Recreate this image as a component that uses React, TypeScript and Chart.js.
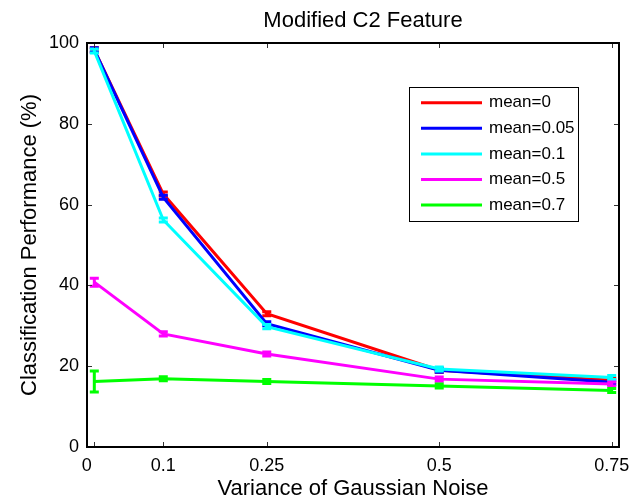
import React, { useEffect, useRef } from "react";
import { Chart, registerables } from "chart.js";

Chart.register(...registerables);

const FONT = "'Liberation Sans', Arial, Helvetica, sans-serif";

const xValues = [0, 0.1, 0.25, 0.5, 0.75];
const xTickValues = [0, 0.1, 0.25, 0.5, 0.75];
const xTickLabels = ["0", "0.1", "0.25", "0.5", "0.75"];
const yTickValues = [0, 20, 40, 60, 80, 100];

const seriesNames = ["mean=0", "mean=0.05", "mean=0.1", "mean=0.5", "mean=0.7"];
const seriesColors = ["#ff0000", "#0000ff", "#00ffff", "#ff00ff", "#00ff00"];

const mean0 = [98.3, 62.6, 33.0, 19.0, 16.5];
const mean005 = [98.3, 61.8, 30.5, 19.0, 16.0];
const mean01 = [98.0, 56.2, 29.8, 19.3, 17.2];
const mean05 = [40.8, 28.0, 23.0, 16.8, 15.6];
const mean07 = [16.2, 16.9, 16.2, 15.1, 14.0];

const err0 = [0.5, 0.5, 0.5, 0.5, 0.5];
const err005 = [0.5, 0.5, 0.5, 0.5, 0.5];
const err01 = [0.5, 0.5, 0.5, 0.5, 0.5];
const err05 = [1.0, 0.5, 0.5, 0.5, 0.5];
const err07 = [2.6, 0.5, 0.5, 0.5, 0.5];

const seriesValues = [mean0, mean005, mean01, mean05, mean07];
const seriesErrors = [err0, err005, err01, err05, err07];

const titleText = "Modified C2 Feature";
const xTitle = "Variance of Gaussian Noise";
const yTitle = "Classification Performance (%)";

const decorPlugin = {
  id: "decor",
  afterDatasetDraw(chart: any, args: any) {
    const ctx = chart.ctx;
    const meta = args.meta;
    const idx = args.index;
    const ys = chart.scales.y;
    const vals = seriesValues[idx];
    const errs = seriesErrors[idx];
    ctx.save();
    ctx.strokeStyle = seriesColors[idx];
    ctx.lineWidth = 3;
    ctx.lineCap = "butt";
    meta.data.forEach((pt: any, i: number) => {
      const x = pt.x;
      const yT = ys.getPixelForValue(vals[i] + errs[i]);
      const yB = ys.getPixelForValue(vals[i] - errs[i]);
      ctx.beginPath();
      ctx.moveTo(x, yT - 1.5);
      ctx.lineTo(x, yB + 1.5);
      ctx.moveTo(x - 4.5, yT);
      ctx.lineTo(x + 4.5, yT);
      ctx.moveTo(x - 4.5, yB);
      ctx.lineTo(x + 4.5, yB);
      ctx.stroke();
    });
    ctx.restore();
  },
  afterDraw(chart: any) {
    const ctx = chart.ctx;
    const { left, right, top, bottom } = chart.chartArea;
    const xs = chart.scales.x;
    const ys = chart.scales.y;
    ctx.save();
    // ticks (inward, all four sides)
    ctx.strokeStyle = "#333";
    ctx.lineWidth = 1;
    ctx.beginPath();
    xTickValues.forEach((v) => {
      const x = Math.round(xs.getPixelForValue(v)) + 0.5;
      ctx.moveTo(x, bottom);
      ctx.lineTo(x, bottom - 5);
      ctx.moveTo(x, top);
      ctx.lineTo(x, top + 5);
    });
    yTickValues.forEach((v) => {
      const y = Math.round(ys.getPixelForValue(v)) + 0.5;
      ctx.moveTo(left, y);
      ctx.lineTo(left + 5, y);
      ctx.moveTo(right, y);
      ctx.lineTo(right - 5, y);
    });
    ctx.stroke();
    // axes box
    ctx.strokeStyle = "#000";
    ctx.lineWidth = 2;
    ctx.strokeRect(left, top, right - left, bottom - top);
    // title
    ctx.fillStyle = "#000";
    ctx.font = `22px ${FONT}`;
    ctx.textAlign = "center";
    ctx.textBaseline = "middle";
    ctx.fillText(titleText, 363, 21);
    // legend
    const lx = 409.5, ly = 87.5, lw = 169, lh = 134;
    ctx.fillStyle = "#fff";
    ctx.fillRect(lx, ly, lw, lh);
    ctx.strokeStyle = "#000";
    ctx.lineWidth = 1;
    ctx.strokeRect(lx, ly, lw, lh);
    ctx.font = `17px ${FONT}`;
    ctx.textAlign = "left";
    seriesNames.forEach((name, i) => {
      const y = 102.7 + i * 25.6;
      ctx.strokeStyle = seriesColors[i];
      ctx.lineWidth = 3;
      ctx.beginPath();
      ctx.moveTo(421, y);
      ctx.lineTo(482, y);
      ctx.stroke();
      ctx.fillStyle = "#000";
      ctx.fillText(name, 489, y);
    });
    ctx.restore();
  },
};

export default function App() {
  const ref = useRef<HTMLCanvasElement>(null);
  useEffect(() => {
    Chart.defaults.font.family = FONT;
    const chart = new Chart(ref.current as HTMLCanvasElement, {
      type: "line",
      data: {
        datasets: seriesNames.map((name, i) => ({
          label: name,
          data: xValues.map((x, j) => ({ x, y: seriesValues[i][j] })),
          borderColor: seriesColors[i],
          backgroundColor: seriesColors[i],
          borderWidth: 3,
          pointRadius: 0,
          tension: 0,
          fill: false,
          order: seriesNames.length - 1 - i,
        })),
      },
      options: {
        responsive: false,
        animation: false,
        events: [],
        layout: { padding: { top: 43, right: 25, left: 0, bottom: 0 } },
        plugins: {
          legend: { display: false },
          title: { display: false },
          tooltip: { enabled: false },
        },
        scales: {
          x: {
            type: "linear",
            min: -0.0106,
            max: 0.7606,
            afterBuildTicks: (s: any) => {
              s.ticks = xTickValues.map((v) => ({ value: v }));
            },
            afterFit: (s: any) => {
              s.height = 56;
            },
            ticks: {
              autoSkip: false,
              maxRotation: 0,
              padding: 8,
              color: "#000",
              font: { size: 18, family: FONT },
              callback: (v: any) => {
                const i = xTickValues.indexOf(Number(v));
                if (i < 0) return "";
                // the first label sits slightly left of its tick, as in the reference
                return i === 0 ? xTickLabels[i] + "   " : xTickLabels[i];
              },
            },
            grid: { display: false, drawTicks: false },
            border: { display: false },
            title: {
              display: true,
              text: xTitle,
              color: "#000",
              font: { size: 22, family: FONT },
              padding: { top: 0, bottom: 1 },
            },
          },
          y: {
            type: "linear",
            min: 0,
            max: 100,
            afterBuildTicks: (s: any) => {
              s.ticks = yTickValues.map((v) => ({ value: v }));
            },
            afterFit: (s: any) => {
              s.width = 87;
            },
            ticks: {
              padding: 8,
              color: "#000",
              font: { size: 18, family: FONT },
            },
            grid: { display: false, drawTicks: false },
            border: { display: false },
            title: {
              display: true,
              text: yTitle,
              color: "#000",
              font: { size: 22, family: FONT },
              padding: { top: 17, bottom: 0 },
            },
          },
        },
      },
      plugins: [decorPlugin],
    } as any);
    return () => chart.destroy();
  }, []);
  return (
    <div style={{ position: "absolute", left: 0, top: 0, width: 644, height: 503, background: "#fff" }}>
      <canvas ref={ref} width={644} height={503} style={{ display: "block", width: 644, height: 503 }} />
    </div>
  );
}
